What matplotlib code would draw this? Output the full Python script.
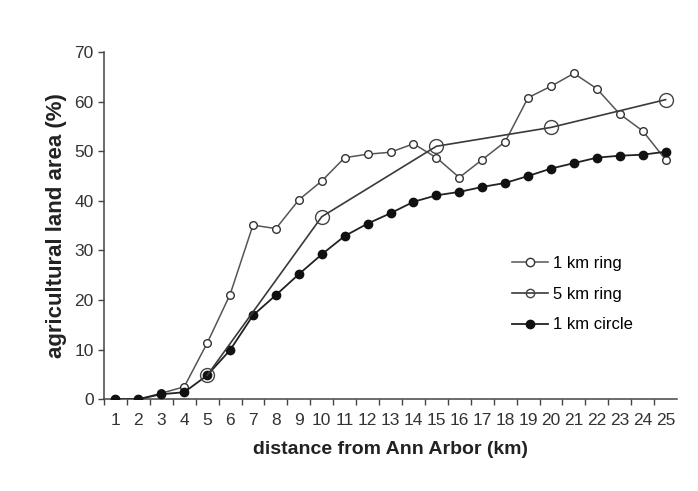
import matplotlib
matplotlib.use("Agg")
import matplotlib.pyplot as plt

# distance bands (km) and the three series
distance = list(range(1, 26))
ring_1km = [0, 0, 1.2, 2.5, 11.3, 21.1, 35.1, 34.4, 40.2, 44.0, 48.7, 49.4, 49.8,
            51.5, 48.7, 44.7, 48.3, 51.9, 60.8, 63.1, 65.7, 62.6, 57.5, 54.1, 48.3]
ring_5km_x = [5, 10, 15, 20, 25]
ring_5km = [4.8, 36.8, 51.0, 54.8, 60.4]
circle_1km = [0, 0, 1.0, 1.4, 4.8, 9.9, 16.9, 21.0, 25.2, 29.2, 32.9, 35.4, 37.5,
              39.8, 41.1, 41.8, 42.8, 43.6, 45.0, 46.5, 47.6, 48.7, 49.1, 49.3, 49.9]

plt.rcParams['font.family'] = ['Liberation Sans Narrow', 'Liberation Sans', 'DejaVu Sans']

fig = plt.figure(figsize=(6.98, 4.91), dpi=100)
ax = fig.add_axes([0.149, 0.187, 0.821, 0.707])

ax.plot(distance, ring_1km, color='#555555', lw=1.1, marker='o', ms=5.5,
        mfc='white', mec='#333333', mew=1.0, label='1 km ring', zorder=3)
ax.plot(ring_5km_x, ring_5km, color='#3a3a3a', lw=1.2, marker='o', ms=10,
        mfc='none', mec='#444444', mew=1.0, label='5 km ring', zorder=5)
ax.plot(distance, circle_1km, color='#222222', lw=1.3, marker='o', ms=6,
        mfc='#111111', mec='#111111', label='1 km circle', zorder=4)

ax.set_xlim(0.5, 25.5)
ax.set_ylim(0, 70)
ax.set_xticks(distance)
ax.set_xticks([d + 0.5 for d in range(0, 25)], minor=True)
ax.tick_params(axis='x', which='major', length=0, labelsize=12.5, pad=10, colors='#333333')
ax.tick_params(axis='x', which='minor', length=4, width=1, color='#444444')
ax.set_yticks(range(0, 71, 10))
ax.tick_params(axis='y', length=4, width=1, labelsize=12.5, color='#444444', labelcolor='#333333')

for s in ['top', 'right']:
    ax.spines[s].set_visible(False)
for s in ['left', 'bottom']:
    ax.spines[s].set_color('#444444')
    ax.spines[s].set_linewidth(1.1)

ax.set_xlabel('distance from Ann Arbor (km)', fontsize=14, fontweight='bold',
              color='#222222', labelpad=9)
ax.set_ylabel('agricultural land area (%)', fontsize=16, fontweight='bold',
              color='#222222', labelpad=5)

leg = ax.legend(loc='center left', bbox_to_anchor=(0.685, 0.303), frameon=False,
                fontsize=12, handlelength=2.2, handletextpad=0.3, labelspacing=0.95)
for h in leg.legend_handles:
    h.set_markersize(6)

fig.savefig('out.png', dpi=100, facecolor='white')
